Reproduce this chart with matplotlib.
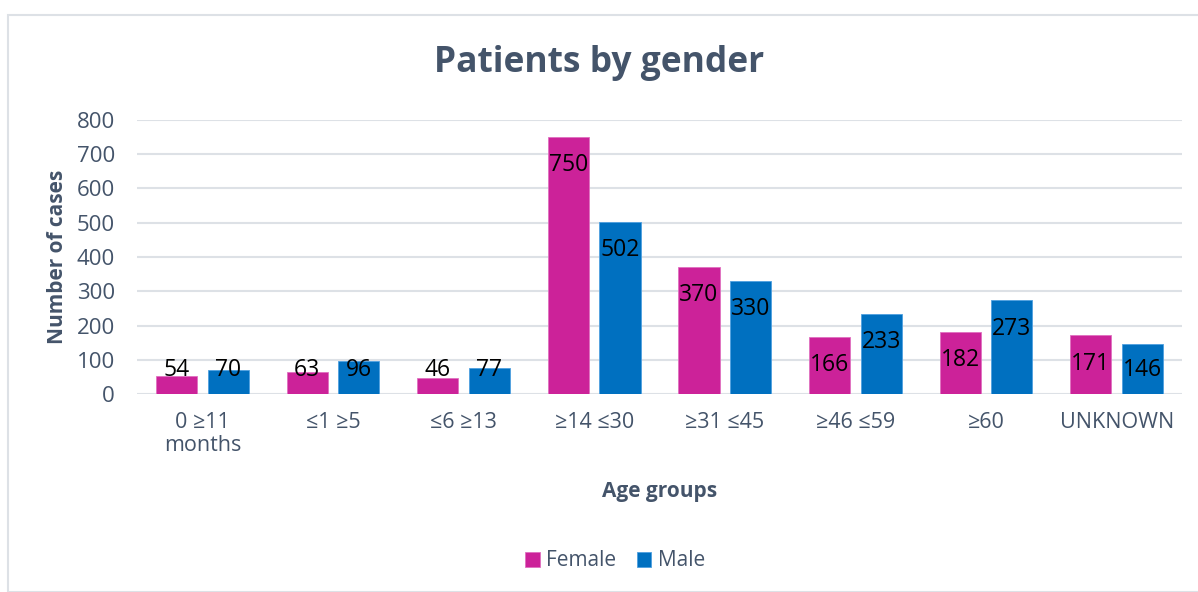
import numpy as np
import matplotlib.pyplot as plt
from matplotlib.patches import Rectangle

# dati
age_groups = ['0 ≥11\nmonths', '≤1 ≥5', '≤6 ≥13', '≥14 ≤30', '≥31 ≤45', '≥46 ≤59', '≥60', 'UNKNOWN']
female = [54, 63, 46, 750, 370, 166, 182, 171]
male = [70, 96, 77, 502, 330, 233, 273, 146]
yticks = [0, 100, 200, 300, 400, 500, 600, 700, 800]

c_female = '#CC2299'
c_male = '#0070C0'
c_text = '#44546A'
c_grid = '#DDE1E6'

plt.rcParams['font.family'] = ['Open Sans', 'DejaVu Sans']

fig = plt.figure(figsize=(11.98, 5.92), dpi=100)
ax = fig.add_axes([137/1198, 1-394/592, (1182-137)/1198, (394-120)/592])

# bordo del grafico
fig.patches.append(Rectangle((8/1198, 0), 1.0, 1-15/592, transform=fig.transFigure,
                             fill=False, edgecolor=c_grid, linewidth=1.5))

x = np.arange(len(age_groups))
w = 0.315
off = w/2 + 0.04
bf = ax.bar(x - off, female, w, color=c_female, edgecolor='#E070C0', linewidth=0.6, label='Female', zorder=3)
bm = ax.bar(x + off, male, w, color=c_male, edgecolor='#4FA0E0', linewidth=0.6, label='Male', zorder=3)

# etichette dentro la barra, in alto
for xs, vals in ((x - off, female), (x + off, male)):
    for xi, v in zip(xs, vals):
        ax.text(xi, max(v - 82, 70), str(v), ha='center', va='center',
                fontsize=16.5, color='black', zorder=4)

ax.set_xlim(-0.5, len(age_groups) - 0.5)
ax.set_ylim(0, 800)
ax.set_yticks(yticks)
ax.set_xticks(x)
ax.set_xticklabels(age_groups, linespacing=1.1)
ax.yaxis.grid(True, color=c_grid, linewidth=1.5, zorder=0)
ax.set_axisbelow(True)
for s in ax.spines.values():
    s.set_visible(False)
ax.tick_params(axis='both', length=0, labelsize=15.5, labelcolor=c_text)
ax.tick_params(axis='y', labelsize=16, pad=16)
ax.tick_params(axis='x', pad=13)

ax.set_ylabel('Number of cases', fontsize=15, fontweight='bold', color=c_text, labelpad=6)
ax.set_xlabel('Age groups', fontsize=15, fontweight='bold', color=c_text, labelpad=18)
fig.text(0.5, 1-63/592, 'Patients by gender', ha='center', va='center',
         fontsize=25.5, fontweight='bold', color=c_text)

fig.legend(handles=[bf, bm], loc='center', bbox_to_anchor=(615/1198, 1-561/592), ncol=2,
           frameon=False, fontsize=15, labelcolor=c_text, handlelength=0.7,
           handleheight=0.7, handletextpad=0.3, columnspacing=1.0)

fig.savefig('out.png', dpi=100)
